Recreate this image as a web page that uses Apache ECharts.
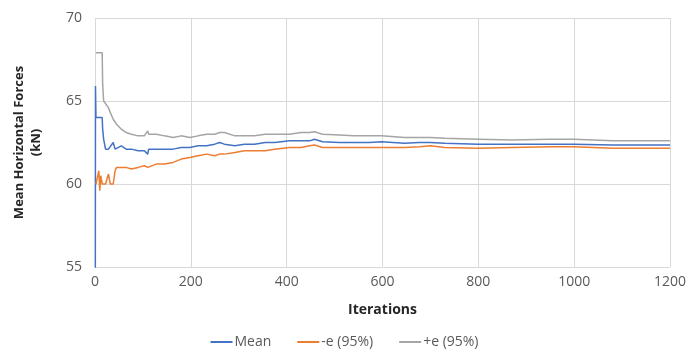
<!DOCTYPE html>
<html>
<head>
<meta charset="utf-8">
<script src="https://cdn.jsdelivr.net/npm/echarts@6/dist/echarts.min.js"></script>
<style>
  html, body { margin: 0; padding: 0; background: #fff; }
  #chart { width: 689px; height: 354px; }
</style>
</head>
<body>
<div id="chart"></div>
<script>
// iteration numbers where the curves were read
const iterations = [0, 1, 2, 8, 10, 12, 15, 16, 18, 22, 28, 32, 38, 42, 45, 55, 65, 76, 90, 103,
  110, 112, 128, 145, 163, 180, 198, 215, 233, 250, 260, 270, 292, 312, 333, 355, 375, 406, 430, 448,
  458, 475, 510, 540, 573, 598, 646, 677, 700, 730, 800, 870, 950, 1000, 1080, 1130, 1200];

// running mean (kN)
const meanValues = [30, 65.9, 64.0, 64.0, 64.0, 64.0, 64.0, 63.3, 62.7, 62.1, 62.1, 62.1, 62.5, 62.1, 62.1, 62.3, 62.1, 62.1, 62.0, 62.0,
  61.8, 62.1, 62.1, 62.1, 62.1, 62.2, 62.2, 62.3, 62.3, 62.4, 62.5, 62.4, 62.3, 62.4, 62.4, 62.5, 62.5, 62.6, 62.6, 62.6,
  62.7, 62.55, 62.5, 62.5, 62.5, 62.55, 62.45, 62.5, 62.5, 62.45, 62.4, 62.4, 62.4, 62.4, 62.35, 62.35, 62.35];

// lower bound -e (95%)
const lowerValues = [null, null, 60.0, 60.8, 59.6, 60.5, 60.0, 60.0, 60.0, 60.0, 60.6, 60.0, 60.0, 60.8, 61.0, 61.0, 61.0, 60.9, 61.0, 61.1,
  61.0, 61.0, 61.2, 61.2, 61.3, 61.5, 61.6, 61.7, 61.8, 61.7, 61.8, 61.8, 61.9, 62.0, 62.0, 62.0, 62.1, 62.2, 62.2, 62.3,
  62.35, 62.2, 62.2, 62.2, 62.2, 62.2, 62.2, 62.25, 62.3, 62.2, 62.15, 62.2, 62.25, 62.25, 62.15, 62.15, 62.15];

// upper bound +e (95%)
const upperValues = [null, null, 67.9, 67.9, 67.9, 67.9, 67.9, 66.0, 65.0, 65.0, 64.6, 64.3, 63.9, 63.8, 63.6, 63.3, 63.1, 63.0, 62.9, 62.9,
  63.2, 63.0, 63.0, 62.9, 62.8, 62.9, 62.8, 62.9, 63.0, 63.0, 63.1, 63.1, 62.9, 62.9, 62.9, 63.0, 63.0, 63.0, 63.1, 63.1,
  63.15, 63.0, 62.95, 62.9, 62.9, 62.9, 62.8, 62.8, 62.8, 62.75, 62.7, 62.65, 62.7, 62.7, 62.6, 62.6, 62.6];

const seriesNames = ['Mean', '-e (95%)', '+e (95%)'];
const seriesColors = ['#4472C4', '#ED7D31', '#A5A5A5'];

const pair = vals => iterations.map((it, i) => [it, vals[i]]);

const chart = echarts.init(document.getElementById('chart'));
const font = 'Open Sans';

chart.setOption({
  animation: false,
  textStyle: { fontFamily: font },
  grid: { left: 95, right: 18, top: 18, bottom: 87 },
  legend: {
    data: seriesNames,
    bottom: 0,
    left: 'center',
    icon: 'rect',
    itemWidth: 22,
    itemHeight: 2,
    itemGap: 26,
    textStyle: { fontFamily: font, fontSize: 14, color: '#595959', padding: [0, 0, 0, -3] }
  },
  xAxis: {
    type: 'value',
    min: 0,
    max: 1200,
    interval: 200,
    name: 'Iterations',
    nameLocation: 'middle',
    nameGap: 36,
    nameTextStyle: { fontFamily: font, fontSize: 14, fontWeight: 'bold', color: '#262626' },
    axisLine: { show: false },
    axisTick: { show: false },
    axisLabel: { fontFamily: font, fontSize: 14, color: '#595959', margin: 8, formatter: v => String(v) },
    splitLine: { show: true, lineStyle: { color: '#d9d9d9', width: 1 } }
  },
  yAxis: {
    type: 'value',
    min: 55,
    max: 70,
    interval: 5,
    name: 'Mean Horizontal Forces\n(kN)',
    nameLocation: 'middle',
    nameGap: 50,
    nameTextStyle: { fontFamily: font, fontSize: 13, fontWeight: 'bold', color: '#262626', lineHeight: 17, align: 'center' },
    axisLine: { show: false },
    axisTick: { show: false },
    axisLabel: { fontFamily: font, fontSize: 14, color: '#595959', margin: 13 },
    splitLine: { show: true, lineStyle: { color: '#d9d9d9', width: 1 } }
  },
  series: [meanValues, lowerValues, upperValues].map((vals, i) => ({
    name: seriesNames[i],
    type: 'line',
    data: pair(vals),
    showSymbol: false,
    clip: true,
    connectNulls: false,
    lineStyle: { color: seriesColors[i], width: 1.5 },
    itemStyle: { color: seriesColors[i] }
  }))
});
</script>
</body>
</html>
